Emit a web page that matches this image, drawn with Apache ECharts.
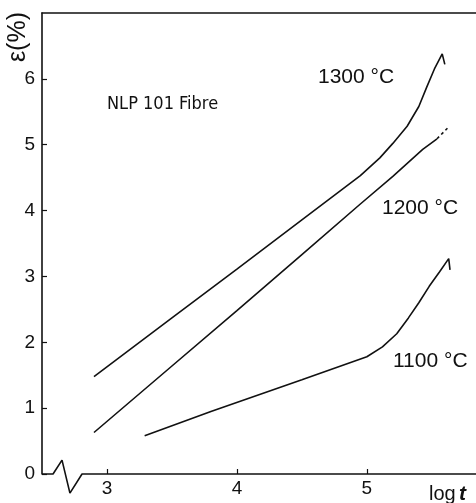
<!DOCTYPE html>
<html>
<head>
<meta charset="utf-8">
<script src="https://cdn.jsdelivr.net/npm/echarts@6/dist/echarts.min.js"></script>
<style>
  html, body { margin: 0; padding: 0; background: #fff; }
  #chart { width: 476px; height: 503px; }
</style>
</head>
<body>
<div id="chart"></div>
<script>
// strain (%) vs log t
var curve1300 = [[2.90, 1.48], [3.50, 2.37], [4.00, 3.11], [4.50, 3.86], [4.95, 4.53], [5.10, 4.80],
                 [5.20, 5.02], [5.31, 5.28], [5.40, 5.58], [5.46, 5.87], [5.52, 6.15], [5.58, 6.38], [5.60, 6.22]];
var curve1200 = [[2.90, 0.63], [3.50, 1.64], [4.00, 2.48], [4.50, 3.33], [4.95, 4.10], [5.20, 4.52], [5.43, 4.93], [5.54, 5.09]];
var curve1200end = [[5.54, 5.09], [5.62, 5.25]];
var curve1100 = [[3.29, 0.58], [3.80, 0.95], [4.50, 1.43], [5.00, 1.78], [5.12, 1.93], [5.23, 2.13],
                 [5.32, 2.37], [5.40, 2.60], [5.48, 2.85], [5.56, 3.07], [5.63, 3.27], [5.64, 3.10]];
// x axis with the break mark near the origin
var baseLine = [[2.5, 0], [2.585, 0], [2.654, 0.21], [2.715, -0.29], [2.808, 0], [5.84, 0]];
var xTicks = [3, 4, 5];
var yTicks = [0, 1, 2, 3, 4, 5, 6];

var chart = echarts.init(document.getElementById('chart'));
var black = '#111';
var lbl = { color: black, fontFamily: 'Liberation Sans, Arial, sans-serif', fontSize: 19 };

function line(data, dashed) {
    return {
        type: 'line', data: data, showSymbol: false, symbol: 'none', smooth: false, clip: false,
        lineStyle: { color: black, width: 1.6, type: dashed ? [3, 3] : 'solid' },
        silent: true, animation: false
    };
}

var option = {
    animation: false,
    grid: { left: 42, right: 0, top: 13, bottom: 29 },
    xAxis: [{
        type: 'value', min: 2.5, max: 5.84, position: 'bottom',
        axisLine: { show: false },
        axisTick: { show: true, inside: true, length: 5, customValues: xTicks, lineStyle: { color: black, width: 1.2 } },
        axisLabel: Object.assign({ customValues: xTicks, margin: 5 }, lbl),
        splitLine: { show: false }
    }, {
        type: 'value', min: 2.5, max: 5.84, position: 'top',
        axisLine: { show: true, onZero: false, lineStyle: { color: black, width: 1.6 } },
        axisTick: { show: false }, axisLabel: { show: false }, splitLine: { show: false }
    }],
    yAxis: {
        type: 'value', min: 0, max: 7,
        axisLine: { show: true, lineStyle: { color: black, width: 1.6 } },
        axisTick: { show: true, inside: true, length: 5, customValues: yTicks, lineStyle: { color: black, width: 1.2 } },
        axisLabel: Object.assign({ customValues: yTicks, margin: 7, verticalAlign: 'middle', padding: [0, 0, 6, 0] }, lbl),
        splitLine: { show: false }
    },
    series: [
        line(baseLine),
        line(curve1300),
        line(curve1200),
        line(curve1200end, true),
        line(curve1100)
    ],
    graphic: [
        { type: 'text', left: 6, top: 12, rotation: Math.PI / 2,
          style: { text: 'ε(%)', fill: black, font: '25px "Liberation Sans", Arial, sans-serif' } },
        { type: 'text', x: 107, y: 95,
          style: { text: 'NLP 101 Fibre', fill: black, font: '18px "Liberation Sans Narrow", "DejaVu Sans Condensed", sans-serif' } },
        { type: 'text', x: 318, y: 67,
          style: { text: '1300 °C', fill: black, font: '21px "Liberation Sans", Arial, sans-serif' } },
        { type: 'text', x: 382, y: 198,
          style: { text: '1200 °C', fill: black, font: '21px "Liberation Sans", Arial, sans-serif' } },
        { type: 'text', x: 393, y: 351,
          style: { text: '1100 °C', fill: black, font: '21px "Liberation Sans", Arial, sans-serif' } },
        { type: 'text', x: 429, y: 484,
          style: { text: '{a|log} {b|t}', fill: black,
                   rich: { a: { fontSize: 20, fontFamily: 'Liberation Sans' },
                           b: { fontSize: 21, fontStyle: 'italic', fontWeight: 'bold', fontFamily: 'Liberation Sans' } } } }
    ]
};
chart.setOption(option);
</script>
</body>
</html>
